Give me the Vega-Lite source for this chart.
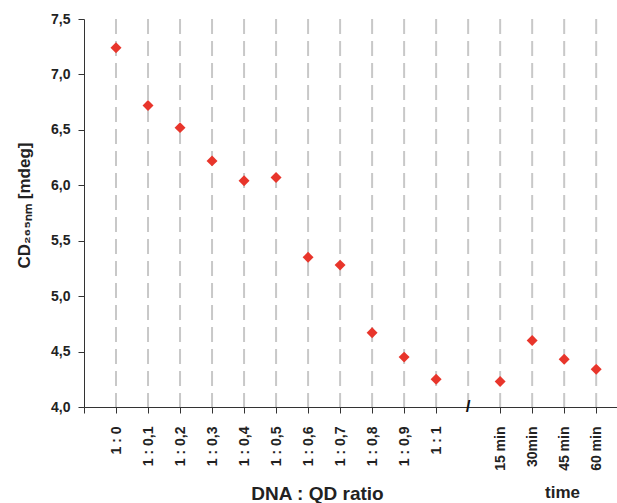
{
  "$schema": "https://vega.github.io/schema/vega-lite/v6.json",
  "width": 533,
  "height": 388,
  "autosize": "none",
  "padding": {"left": 84, "top": 19, "right": 0, "bottom": 96},
  "background": "white",
  "config": {
    "view": {"stroke": null},
    "font": "Liberation Sans",
    "axis": {"labelFont": "Liberation Sans", "titleFont": "Liberation Sans"}
  },
  "title": {
    "text": "time",
    "orient": "bottom",
    "anchor": "start",
    "frame": "group",
    "dx": 461,
    "offset": -18,
    "fontSize": 17,
    "fontWeight": "bold",
    "color": "#222222",
    "font": "Liberation Sans"
  },
  "datasets": {
    "points": [
      {"label": "1 : 0", "pos": 1, "cd": 7.24},
      {"label": "1 : 0,1", "pos": 2, "cd": 6.72},
      {"label": "1 : 0,2", "pos": 3, "cd": 6.52},
      {"label": "1 : 0,3", "pos": 4, "cd": 6.22},
      {"label": "1 : 0,4", "pos": 5, "cd": 6.04},
      {"label": "1 : 0,5", "pos": 6, "cd": 6.07},
      {"label": "1 : 0,6", "pos": 7, "cd": 5.35},
      {"label": "1 : 0,7", "pos": 8, "cd": 5.28},
      {"label": "1 : 0,8", "pos": 9, "cd": 4.67},
      {"label": "1 : 0,9", "pos": 10, "cd": 4.45},
      {"label": "1 : 1", "pos": 11, "cd": 4.25},
      {"label": "15 min", "pos": 13, "cd": 4.23},
      {"label": "30min", "pos": 14, "cd": 4.6},
      {"label": "45 min", "pos": 15, "cd": 4.43},
      {"label": "60 min", "pos": 16, "cd": 4.34}
    ],
    "grid": [
      {"pos": 1}, {"pos": 2}, {"pos": 3}, {"pos": 4}, {"pos": 5}, {"pos": 6}, {"pos": 7}, {"pos": 8},
      {"pos": 9}, {"pos": 10}, {"pos": 11}, {"pos": 12}, {"pos": 13}, {"pos": 14}, {"pos": 15}, {"pos": 16}
    ],
    "brk": [{"pos": 12, "cd": 4.0, "sym": "/"}]
  },
  "encoding": {
    "x": {
      "field": "pos",
      "type": "quantitative",
      "scale": {"domain": [0, 16.65], "nice": false, "zero": false},
      "axis": {
        "values": [0, 1, 2, 3, 4, 5, 6, 7, 8, 9, 10, 11, 13, 14, 15, 16],
        "labelExpr": "['', '1 : 0', '1 : 0,1', '1 : 0,2', '1 : 0,3', '1 : 0,4', '1 : 0,5', '1 : 0,6', '1 : 0,7', '1 : 0,8', '1 : 0,9', '1 : 1', '', '15 min', '30min', '45 min', '60 min'][datum.value]",
        "labelAngle": -90,
        "labelFontSize": 14,
        "labelFontWeight": "bold",
        "labelColor": "#222222",
        "labelPadding": 13,
        "labelOverlap": false,
        "labelFlush": false,
        "labelBound": false,
        "domainColor": "#333333",
        "tickColor": "#333333",
        "tickSize": 6,
        "grid": false,
        "title": "DNA : QD ratio",
        "titleFontSize": 19,
        "titleFontWeight": "bold",
        "titleColor": "#222222",
        "titleX": 233,
        "titleY": 92,
        "titleAlign": "center",
        "titleBaseline": "alphabetic"
      }
    }
  },
  "layer": [
    {
      "data": {"name": "grid"},
      "mark": {"type": "rule", "color": "#c8c8c8", "strokeWidth": 2, "strokeDash": [15, 7]}
    },
    {
      "data": {"name": "points"},
      "mark": {"type": "point", "shape": "diamond", "filled": true, "color": "#e8352b", "opacity": 1, "size": 120},
      "encoding": {
        "y": {
          "field": "cd",
          "type": "quantitative",
          "scale": {"domain": [4, 7.5], "nice": false, "zero": false},
          "axis": {
            "values": [4, 4.5, 5, 5.5, 6, 6.5, 7, 7.5],
            "labelExpr": "replace(format(datum.value, '.1f'), '.', ',')",
            "labelFontSize": 14,
            "labelFontWeight": "bold",
            "labelColor": "#222222",
            "labelPadding": 8,
            "domainColor": "#333333",
            "tickColor": "#333333",
            "tickSize": 6,
            "grid": false,
            "title": "CD₂₆₅ₙₘ [mdeg]",
            "titleFontSize": 17,
            "titleFontWeight": "bold",
            "titleColor": "#222222",
            "titleAngle": -90,
            "titleX": -55,
            "titleY": 186,
            "titleAlign": "center",
            "titleBaseline": "alphabetic"
          }
        }
      }
    },
    {
      "data": {"name": "brk"},
      "mark": {"type": "text", "fontSize": 17, "fontWeight": "bold", "color": "#111111", "baseline": "middle", "align": "center", "font": "Liberation Sans"},
      "encoding": {
        "y": {
          "field": "cd",
          "type": "quantitative",
          "scale": {"domain": [4, 7.5], "nice": false, "zero": false},
          "axis": {
            "values": [4, 4.5, 5, 5.5, 6, 6.5, 7, 7.5],
            "labelExpr": "replace(format(datum.value, '.1f'), '.', ',')",
            "labelFontSize": 14,
            "labelFontWeight": "bold",
            "labelColor": "#222222",
            "labelPadding": 8,
            "domainColor": "#333333",
            "tickColor": "#333333",
            "tickSize": 6,
            "grid": false,
            "title": "CD₂₆₅ₙₘ [mdeg]",
            "titleFontSize": 17,
            "titleFontWeight": "bold",
            "titleColor": "#222222",
            "titleAngle": -90,
            "titleX": -55,
            "titleY": 186,
            "titleAlign": "center",
            "titleBaseline": "alphabetic"
          }
        },
        "text": {"field": "sym"}
      }
    }
  ]
}
